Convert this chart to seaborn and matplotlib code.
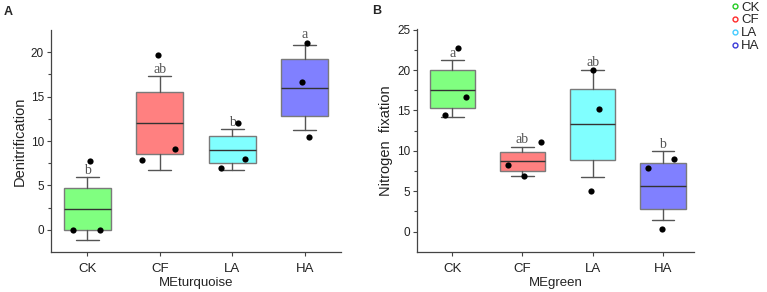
import numpy as np
import pandas as pd
import matplotlib
matplotlib.use("Agg")
import matplotlib.pyplot as plt
from matplotlib.lines import Line2D
import seaborn as sns

groups = ["CK", "CF", "LA", "HA"]
box_colors = ["#80ff80", "#ff8080", "#80ffff", "#8080ff"]
legend_colors = ["#22cc22", "#ff2a2a", "#44ccff", "#3a3ad8"]

# Panel A: Denitrification (MEturquoise)
a_q1 = [0.0, 8.5, 7.5, 12.8]
a_med = [2.35, 12.0, 9.0, 16.0]
a_q3 = [4.7, 15.5, 10.55, 19.2]
a_wlo = [-1.2, 6.7, 6.7, 11.2]
a_whi = [5.9, 17.3, 11.3, 20.8]
a_points = [[0.0, 0.0, 7.7], [19.7, 7.9, 9.1], [12.0, 7.95, 6.95], [21.0, 16.6, 10.5]]
a_jitter = [[-0.19, 0.17, 0.04], [-0.02, -0.24, 0.21], [0.08, 0.18, -0.16], [0.03, -0.04, 0.06]]
a_letters = ["b", "ab", "b", "a"]
a_letter_y = [6.7, 18.0, 12.1, 21.95]

# Panel B: Nitrogen fixation (MEgreen)
b_q1 = [15.3, 7.5, 8.9, 2.8]
b_med = [17.6, 8.7, 13.3, 5.6]
b_q3 = [20.0, 9.9, 17.7, 8.5]
b_wlo = [14.2, 6.9, 6.7, 1.4]
b_whi = [21.2, 10.5, 20.0, 10.0]
b_points = [[22.8, 16.7, 14.4], [11.1, 8.2, 6.9], [20.0, 15.2, 5.0], [9.0, 7.9, 0.3]]
b_jitter = [[0.08, 0.19, -0.11], [0.27, -0.21, 0.02], [0.01, 0.09, -0.03], [0.16, -0.21, -0.01]]
b_letters = ["a", "ab", "ab", "b"]
b_letter_y = [22.1, 11.4, 20.95, 10.8]

sns.set_theme(style="ticks")
plt.rcParams["font.family"] = ["Liberation Sans", "DejaVu Sans"]

fig = plt.figure(figsize=(7.67, 2.92), dpi=100)
axA = fig.add_axes([51 / 767, 40 / 292, 290 / 767, 222 / 292])
axB = fig.add_axes([417.3 / 767, 40.3 / 292, 277 / 767, 222.7 / 292])


def draw_panel(ax, q1, med, q3, wlo, whi, pts, jit, letters, letter_y,
               ylim, yticks, ylabel, xlabel):
    stats = []
    for i, g in enumerate(groups):
        stats.append(dict(label=g, q1=q1[i], med=med[i], q3=q3[i],
                          whislo=wlo[i], whishi=whi[i], fliers=[]))
    bp = ax.bxp(stats, positions=range(len(groups)), widths=0.65,
                patch_artist=True, showfliers=False,
                boxprops=dict(edgecolor="#7a7a7a", linewidth=1.0),
                whiskerprops=dict(color="#555555", linewidth=1.0),
                capprops=dict(color="#555555", linewidth=1.0),
                medianprops=dict(color="#333333", linewidth=1.0),
                capwidths=0.32)
    for patch, c in zip(bp["boxes"], box_colors):
        patch.set_facecolor(c)
    rows = []
    for i, g in enumerate(groups):
        for v, j in zip(pts[i], jit[i]):
            rows.append({"x": i + j, "y": v})
    df = pd.DataFrame(rows)
    sns.scatterplot(data=df, x="x", y="y", ax=ax, color="black", s=20,
                    edgecolor="black", linewidth=0, zorder=5)
    for i, (t, y) in enumerate(zip(letters, letter_y)):
        ax.text(i, y, t, ha="center", va="center", fontsize=10,
                family=["Liberation Serif", "DejaVu Serif"], color="#555555",
                zorder=4)
    ax.set_xlim(-0.5, 3.5)
    ax.set_ylim(*ylim)
    ax.set_yticks(yticks)
    ax.set_yticks(np.arange(yticks[0] + 2.5, ylim[1], 5), minor=True)
    ax.set_xticks(range(len(groups)))
    ax.set_xticklabels(groups, fontsize=9.5)
    ax.tick_params(axis="y", labelsize=8.5, length=3, width=0.8, color="#444444",
                   pad=2, labelcolor="#222222")
    ax.tick_params(axis="y", which="minor", length=2, width=0.8, color="#444444")
    ax.tick_params(axis="x", length=3, width=0.8, color="#444444", pad=5,
                   labelcolor="#222222")
    ax.set_ylabel(ylabel, fontsize=10.5, labelpad=3, color="#222222")
    ax.set_xlabel(xlabel, fontsize=9.5, labelpad=1.5, color="#222222")
    sns.despine(ax=ax)
    for s in ["left", "bottom"]:
        ax.spines[s].set_color("#444444")
        ax.spines[s].set_linewidth(0.9)


draw_panel(axA, a_q1, a_med, a_q3, a_wlo, a_whi, a_points, a_jitter,
           a_letters, a_letter_y, (-2.5, 22.5), [0, 5, 10, 15, 20],
           "Denitrification", "MEturquoise")
draw_panel(axB, b_q1, b_med, b_q3, b_wlo, b_whi, b_points, b_jitter,
           b_letters, b_letter_y, (-2.5, 25.1), [0, 5, 10, 15, 20, 25],
           "Nitrogen  fixation", "MEgreen")
axB.set_xlim(-0.5, 3.45)

fig.text(4 / 767, 1 - 12 / 292, "A", fontsize=9, fontweight="bold", va="center")
fig.text(372 / 767, 1 - 11 / 292, "B", fontsize=9, fontweight="bold", va="center")

handles = [Line2D([], [], marker="o", linestyle="none", markerfacecolor="none",
                  markeredgecolor=c, markersize=3.5, markeredgewidth=1.0)
           for c in legend_colors]
fig.legend(handles, groups, loc="upper left", bbox_to_anchor=(730 / 767, 1.0),
           frameon=False, fontsize=9.5, handlelength=0.5, handletextpad=0.25,
           labelspacing=0.05, borderaxespad=0.1, borderpad=0.0)

fig.savefig("out.png", dpi=100)
